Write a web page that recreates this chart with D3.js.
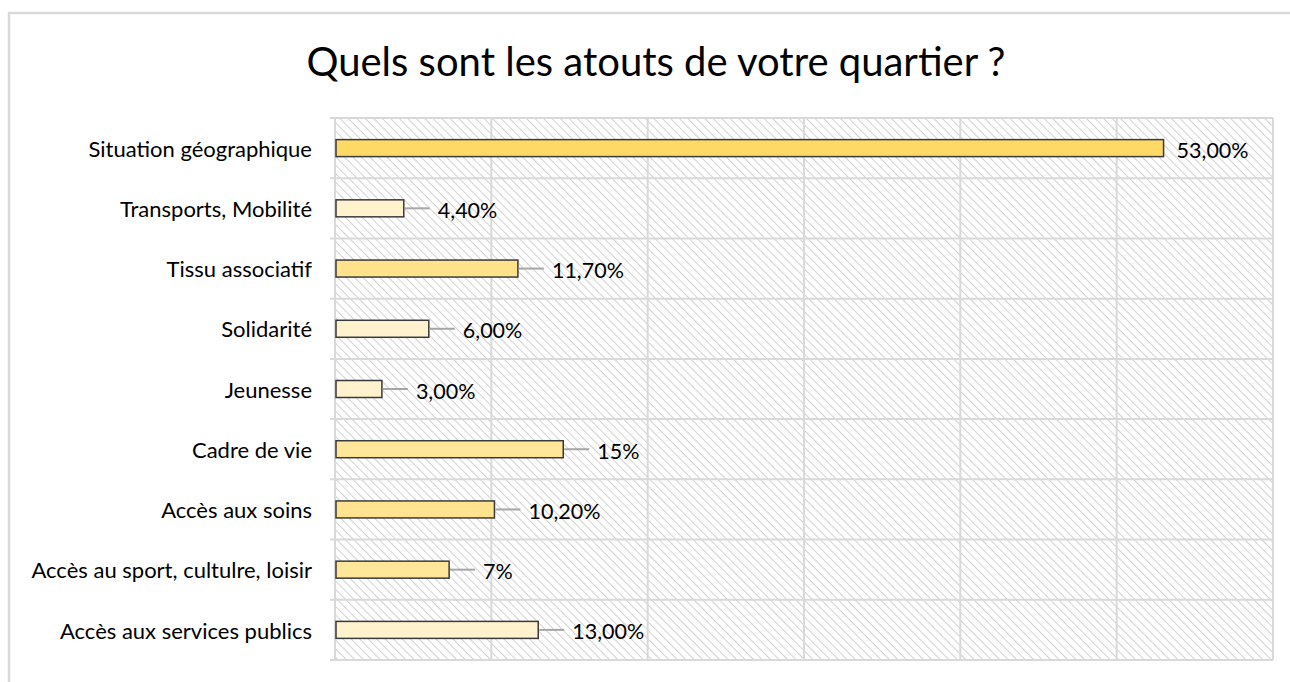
<!DOCTYPE html>
<html><head><meta charset="utf-8">
<script src="https://cdn.jsdelivr.net/npm/d3@7"></script>
<style>body{margin:0;background:#fff}svg{display:block}</style>
</head><body>
<script>
const title = "Quels sont les atouts de votre quartier ?";
const categories = ["Situation géographique","Transports, Mobilité","Tissu associatif","Solidarité","Jeunesse","Cadre de vie","Accès aux soins","Accès au sport, cultulre, loisir","Accès aux services publics"];
const values = [53, 4.4, 11.7, 6, 3, 14.6, 10.2, 7.3, 13];
const valueLabels = ["53,00%","4,40%","11,70%","6,00%","3,00%","15%","10,20%","7%","13,00%"];
const barColors = ["#FFD966","#FFF2CC","#FFE28A","#FFF2CC","#FFF2CC","#FFE699","#FFE38F","#FFE699","#FFF2CC"];
const xTicks = [0,10,20,30,40,50,60];

const W = 1290, H = 682;
const m = {left:335, right:17, top:118, bottom:22};
const svg = d3.select("body").append("svg").attr("width",W).attr("height",H);
const font = "Lato, 'Open Sans', sans-serif";

// frame
svg.append("path").attr("d",`M9,${H} V13 H${W}`).attr("fill","none").attr("stroke","#d9d9d9").attr("stroke-width",2.5);

const defs = svg.append("defs");
const pat = defs.append("pattern").attr("id","hatch").attr("patternUnits","userSpaceOnUse")
  .attr("width",6).attr("height",6).attr("patternTransform","rotate(-45)");
pat.append("rect").attr("width",6).attr("height",6).attr("fill","#fff");
pat.append("line").attr("x1",0).attr("y1",0).attr("x2",0).attr("y2",6).attr("stroke","#d2d2d2").attr("stroke-width",2);

const x = d3.scaleLinear().domain([0,60]).range([m.left, W-m.right]);
const y = d3.scaleBand().domain(categories).range([m.top, H-m.bottom]).paddingInner(0).paddingOuter(0);

svg.append("rect").attr("x",x(0)).attr("y",m.top).attr("width",x(60)-x(0)).attr("height",H-m.bottom-m.top).attr("fill","url(#hatch)");

// gridlines
const g = svg.append("g");
g.selectAll("line.v").data(xTicks).join("line").attr("class","v")
  .attr("x1",d=>x(d)).attr("x2",d=>x(d)).attr("y1",m.top).attr("y2",H-m.bottom)
  .attr("stroke","#d9d9d9").attr("stroke-width",2);
const hb = categories.map(c=>y(c)).concat([H-m.bottom]);
g.selectAll("line.h").data(hb).join("line").attr("class","h")
  .attr("x1",x(0)-5).attr("x2",x(60)).attr("y1",d=>d).attr("y2",d=>d)
  .attr("stroke","#d9d9d9").attr("stroke-width",2);

// title
svg.append("text").attr("x",656).attr("y",76).attr("text-anchor","middle")
  .attr("font-family",font).attr("font-size",40).attr("fill","#000").text(title);

// category labels
svg.selectAll("text.cat").data(categories).join("text").attr("class","cat")
  .attr("x",312).attr("y",d=>y(d)+y.bandwidth()/2+1).attr("dy","0.35em").attr("text-anchor","end")
  .attr("font-family",font).attr("font-size",22).attr("fill","#000").text(d=>d);

const bh = 17;
const rows = categories.map((c,i)=>({c, v:values[i], l:valueLabels[i], col:barColors[i], i}));
svg.selectAll("rect.bar").data(rows).join("rect").attr("class","bar")
  .attr("x",x(0)+1).attr("y",d=>y(d.c)+y.bandwidth()/2-bh/2).attr("width",d=>x(d.v)-x(0)-1).attr("height",bh)
  .attr("fill",d=>d.col).attr("stroke","#3a3a3a").attr("stroke-width",1.5);

// leader lines
svg.selectAll("line.lead").data(rows.filter(d=>d.i>0)).join("line").attr("class","lead")
  .attr("x1",d=>x(d.v)+1).attr("x2",d=>x(d.v)+26).attr("y1",d=>y(d.c)+y.bandwidth()/2).attr("y2",d=>y(d.c)+y.bandwidth()/2)
  .attr("stroke","#a6a6a6").attr("stroke-width",2);

svg.selectAll("text.val").data(rows).join("text").attr("class","val")
  .attr("x",d=>x(d.v)+(d.i>0?34:13)).attr("y",d=>y(d.c)+y.bandwidth()/2+2).attr("dy","0.35em")
  .attr("font-family",font).attr("font-size",21.5).attr("fill","#000").text(d=>d.l);
</script>
</body></html>
